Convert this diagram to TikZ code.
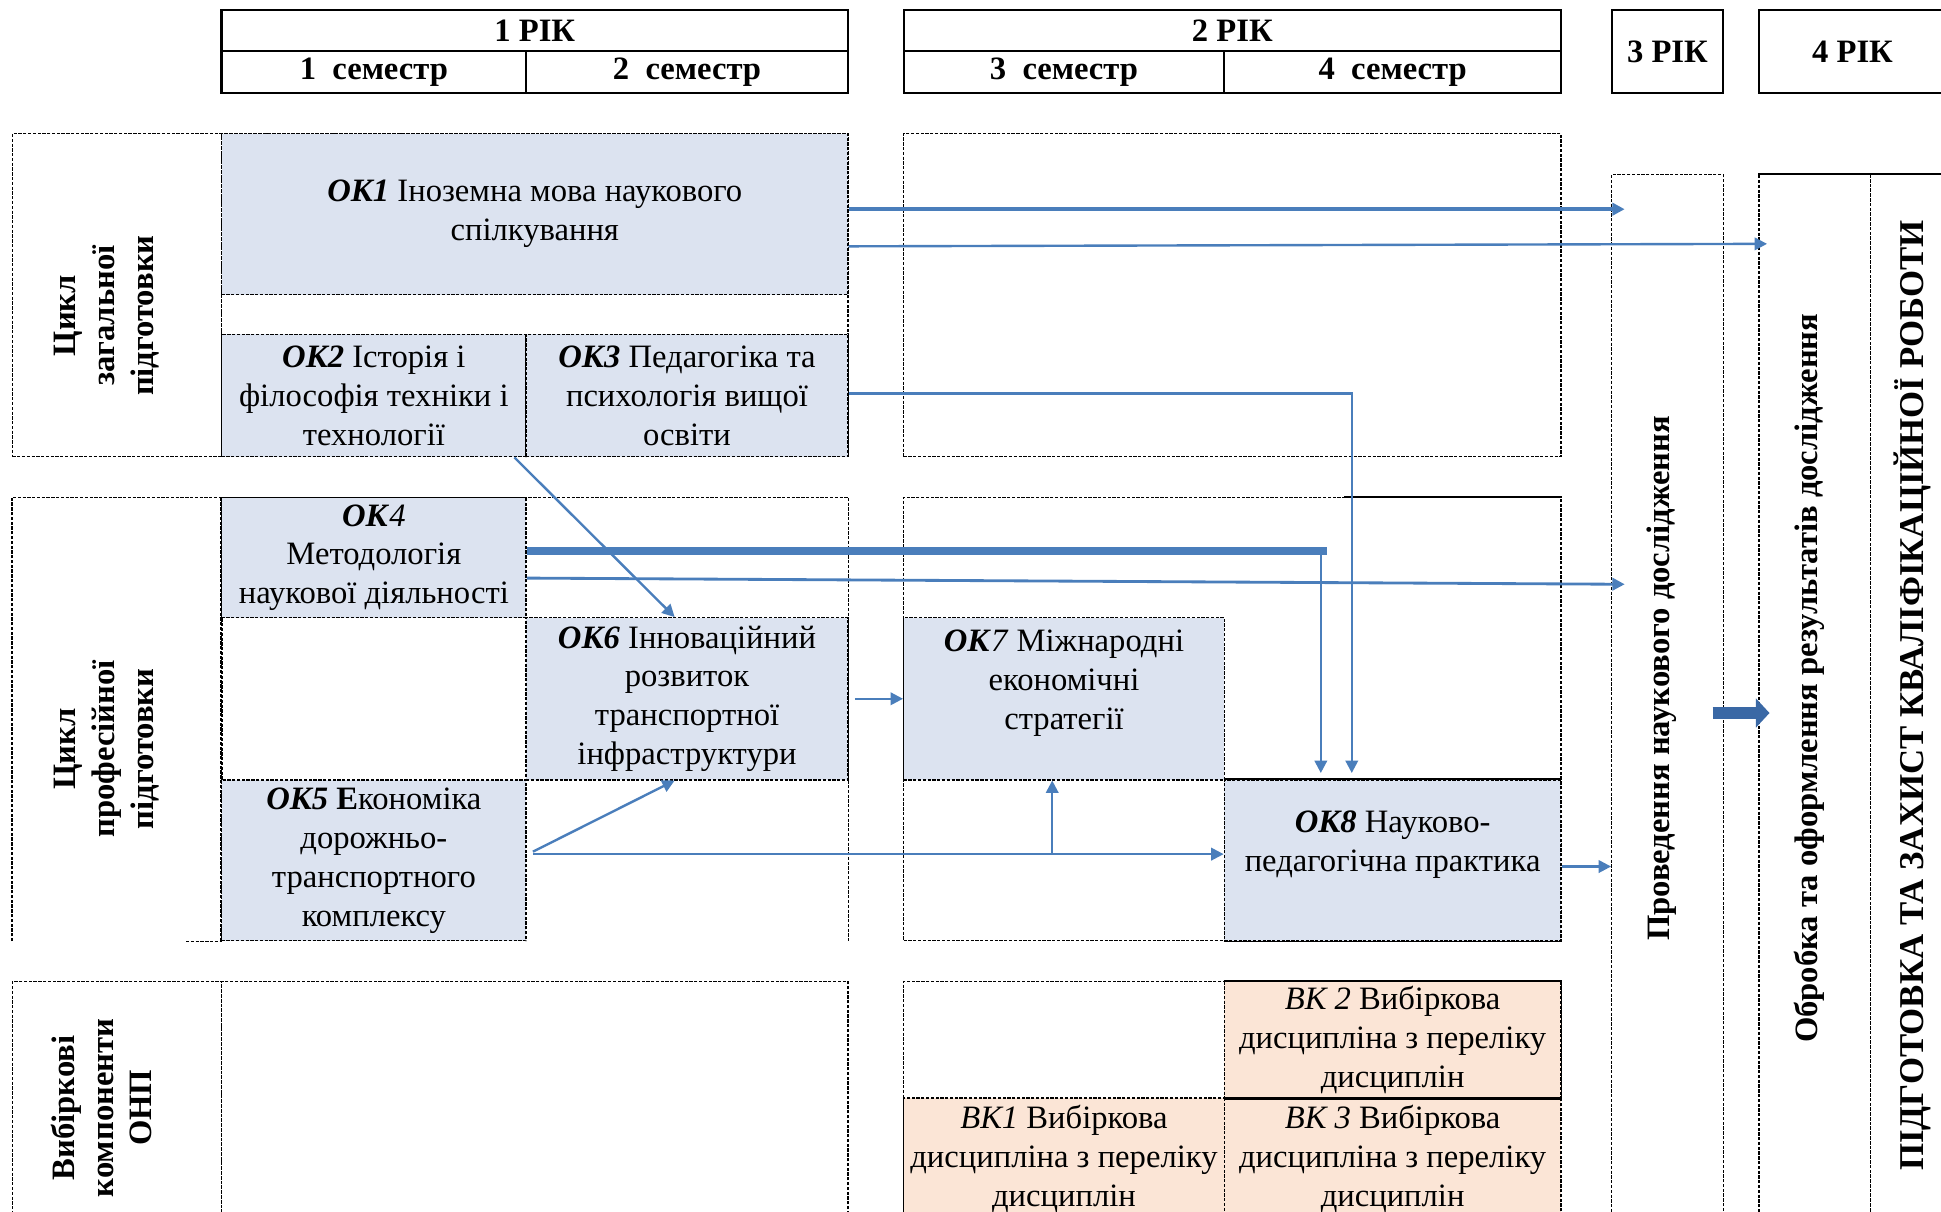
\documentclass[tikz,border=0pt]{standalone}
\usepackage{fontspec}
\setmainfont{Liberation Serif}
\usetikzlibrary{arrows.meta, calc}

\definecolor{okfill}{RGB}{220,227,240}
\definecolor{vkfill}{RGB}{251,229,214}
\definecolor{arrblue}{RGB}{74,126,187}
\definecolor{blockblue}{RGB}{58,104,165}

\tikzset{
  hdr/.style={draw=black, line width=1pt, inner sep=0pt, font=\bfseries},
  frameline/.style={draw=black, line width=0.6pt, dash pattern=on 1.5pt off 0.7pt},
  frame/.style={frameline, inner sep=0pt},
  okbox/.style={frame, fill=okfill, align=center, inner sep=0.5pt},
  vkbox/.style={frame, fill=vkfill, align=center, inner sep=0.5pt},
  vtext/.style={rotate=90, align=center, font=\bfseries, inner sep=0pt},
  link/.style={-{Triangle[length=2mm, width=2mm]}, draw=arrblue, line width=1.1pt},
}

\begin{document}
\fontsize{15}{17.9}\selectfont
\begin{tikzpicture}[x=0.2mm, y=-0.2mm]
\useasboundingbox (0,0) rectangle (1568,979);
\clip (0,0) rectangle (1568,979);

\node[hdr, minimum width=101.2mm, minimum height=6.6mm] (year1) at (432,24.5) {1 РІК};
\node[hdr, minimum width=49.2mm, minimum height=6.8mm] (sem1) at (302,58) {1\ \ семестр};
\node[hdr, minimum width=52mm, minimum height=6.8mm] (sem2) at (555,58) {2\ \ семестр};
\node[hdr, minimum width=106.2mm, minimum height=6.6mm] (year2) at (995.5,24.5) {2 РІК};
\node[hdr, minimum width=51.8mm, minimum height=6.8mm] (sem3) at (859.5,58) {3\ \ семестр};
\node[hdr, minimum width=54.4mm, minimum height=6.8mm] (sem4) at (1125,58) {4\ \ семестр};
\node[hdr, minimum width=18mm, minimum height=13.4mm] (year3) at (1347,41.5) {3 РІК};
\node[hdr, minimum width=30.2mm, minimum height=13.4mm] (year4) at (1496.5,41.5) {4 РІК};

\node[frame, minimum width=33.8mm, minimum height=52.2mm] (cycle1) at (94.5,238.5) {};
\node[frame, minimum width=101.2mm, minimum height=52.2mm] (sem12a) at (432,238.5) {};
\node[frame, minimum width=106.2mm, minimum height=52.2mm] (sem34a) at (995.5,238.5) {};
\node[vtext] (cycle1txt) at (86,255) {Цикл\\загальної\\підготовки};

\node[okbox, minimum width=101.2mm, minimum height=26mm] (ok1) at (432,173)
  {\textbf{\textit{ОК1}} Іноземна мова наукового\\спілкування};
\node[okbox, minimum width=49.2mm, minimum height=19.8mm] (ok2) at (302,319.5)
  {\textbf{\textit{ОК2}} Історія і\\філософія техніки і\\технології};
\node[okbox, minimum width=52mm, minimum height=19.8mm] (ok3) at (555,319.5)
  {\textbf{\textit{ОК3}} Педагогіка та\\психологія вищої\\освіти};

\node[inner sep=0pt, minimum width=33.8mm, minimum height=71.6mm] (cycle2) at (94.5,581) {};
\draw[frameline] (cycle2.south west) -- (cycle2.north west) -- (cycle2.north east) -- (cycle2.south east);
\draw[frameline] ($(cycle2.south east)+(-29,0)$) -- (cycle2.south east);
\node[inner sep=0pt, minimum width=101.2mm, minimum height=71.6mm] (sem12b) at (432,581) {};
\draw[frameline] (sem12b.south west) -- (sem12b.north west) -- (sem12b.north east) -- (sem12b.south east);
\node[frame, minimum width=106.2mm, minimum height=71.6mm] (sem34b) at (995.5,581) {};
\draw[line width=0.8pt] (sem34b.north east) -- ++(-176,0);
\node[vtext] (cycle2txt) at (86,605) {Цикл\\професійної\\підготовки};

\node[okbox, minimum width=49.2mm, minimum height=19.4mm] (ok4) at (302,450.5)
  {\textbf{\textit{ОК}}\textit{4}\\Методологія\\наукової діяльності};
\node[okbox, minimum width=49.2mm, minimum height=26mm] (ok5) at (302,695)
  {\textbf{\textit{ОК5}} \textbf{Е}кономіка\\дорожньо-\\транспортного\\комплексу};
\node[okbox, minimum width=52mm, minimum height=26.2mm] (ok6) at (555,564.5)
  {\textbf{\textit{ОК6}} Інноваційний\\розвиток\\транспортної\\інфраструктури};
\node[okbox, minimum width=51.8mm, minimum height=26.2mm] (ok7) at (859.5,564.5)
  {\textbf{\textit{ОК}}\textit{7} Міжнародні\\економічні\\стратегії\\\mbox{}};
\node[okbox, minimum width=54.4mm, minimum height=26mm] (ok8) at (1125,695)
  {\textbf{\textit{ОК8}} Науково-\\педагогічна практика\\\mbox{}};
\draw[line width=0.8pt] (ok8.north west) -- (ok8.north east);
\draw[line width=0.8pt] (ok8.south west) -- (ok8.south east);

\node[frame, minimum width=33.8mm, minimum height=38.4mm] (cycle3) at (94.5,889) {};
\node[frame, minimum width=101.2mm, minimum height=38.4mm] (sem12c) at (432,889) {};
\node[frame, minimum width=106.2mm, minimum height=38.4mm] (sem34c) at (995.5,889) {};
\node[vtext] (cycle3txt) at (82,895) {Вибіркові\\компоненти\\ОНП};

\node[vkbox, minimum width=54.4mm, minimum height=18.8mm] (vk2) at (1125,840)
  {\textit{ВК 2} Вибіркова\\дисципліна з переліку\\дисциплін};
\node[vkbox, minimum width=51.8mm, minimum height=19.6mm] (vk1) at (859.5,936)
  {\textit{ВК1} Вибіркова\\дисципліна з переліку\\дисциплін};
\node[vkbox, minimum width=54.4mm, minimum height=19.6mm] (vk3) at (1125,936)
  {\textit{ВК 3} Вибіркова\\дисципліна з переліку\\дисциплін};
\draw[line width=0.8pt] (vk2.north west) -- (vk2.north east);
\draw[line width=0.8pt] (vk2.south west) -- (vk2.south east);

\node[frame, minimum width=18mm, minimum height=168.8mm] (res) at (1347,563) {};
\node[frame, minimum width=18mm, minimum height=168.8mm] (obr) at (1466,563) {};
\node[frame, minimum width=13.8mm, minimum height=168.8mm] (zah) at (1545.5,563) {};
\draw[line width=1pt] (obr.north west) -- (zah.north east);
\node[vtext] (restxt) at (1342,548) {Проведення наукового дослідження};
\node[vtext] (obrtxt) at (1462,548) {Обробка та оформлення результатів дослідження};
\node[vtext, font=\bfseries\fontsize{16}{19}\selectfont] (zahtxt) at (1545,562)
  {ПІДГОТОВКА ТА ЗАХИСТ КВАЛІФІКАЦІЙНОЇ РОБОТИ};

\coordinate (drop) at (1067,445);

\draw[link, line width=1.7pt] ($(ok1.east)+(0,-4)$) -- ($(res.west |- ok1.east)+(11,-4)$);
\draw[link] ($(ok1.east)+(0,26)$) -- ($(obr.west |- ok1.east)+(7,24)$);
\draw[link] ($(ok3.east)+(0,-1.5)$) -| ($(ok8.north)+(-33,-5)$);
\draw[link] ($(ok2.south east)+(-10,0)$) -- ($(ok6.north)+(-10,0)$);
\draw[arrblue, line width=3.5pt] ($(ok4.east)+(0,-5.5)$) -- ($(drop)+(5,0)$);
\draw[link] (drop) -- ($(drop |- ok8.north)+(0,-5)$);
\draw[link, line width=1.3pt] ($(ok4.east)+(0,16.5)$) -- ($(res.west |- ok4.east)+(11,21.5)$);
\draw[link] ($(ok5.east)+(5,-7)$) -- ($(ok6.south)+(-10,0)$);
\draw[link] ($(ok5.east)+(5,-5)$) -- ($(ok8.west)+(0,-5)$);
\draw[link] ($(ok7.south)+(-9.5,60)$) -- ($(ok7.south)+(-9.5,0)$);
\draw[link] ($(ok6.east)+(5,0)$) -- (ok7.west);
\draw[link] ($(ok8.east)+(0,5)$) -- ($(res.west |- ok8.east)+(0,5)$);
\draw[-{Triangle[length=2.2mm, width=4.6mm]}, line width=2mm, blockblue]
  ($(res.east)+(-9,13)$) -- ($(obr.west)+(9,13)$);

\end{tikzpicture}
\end{document}
